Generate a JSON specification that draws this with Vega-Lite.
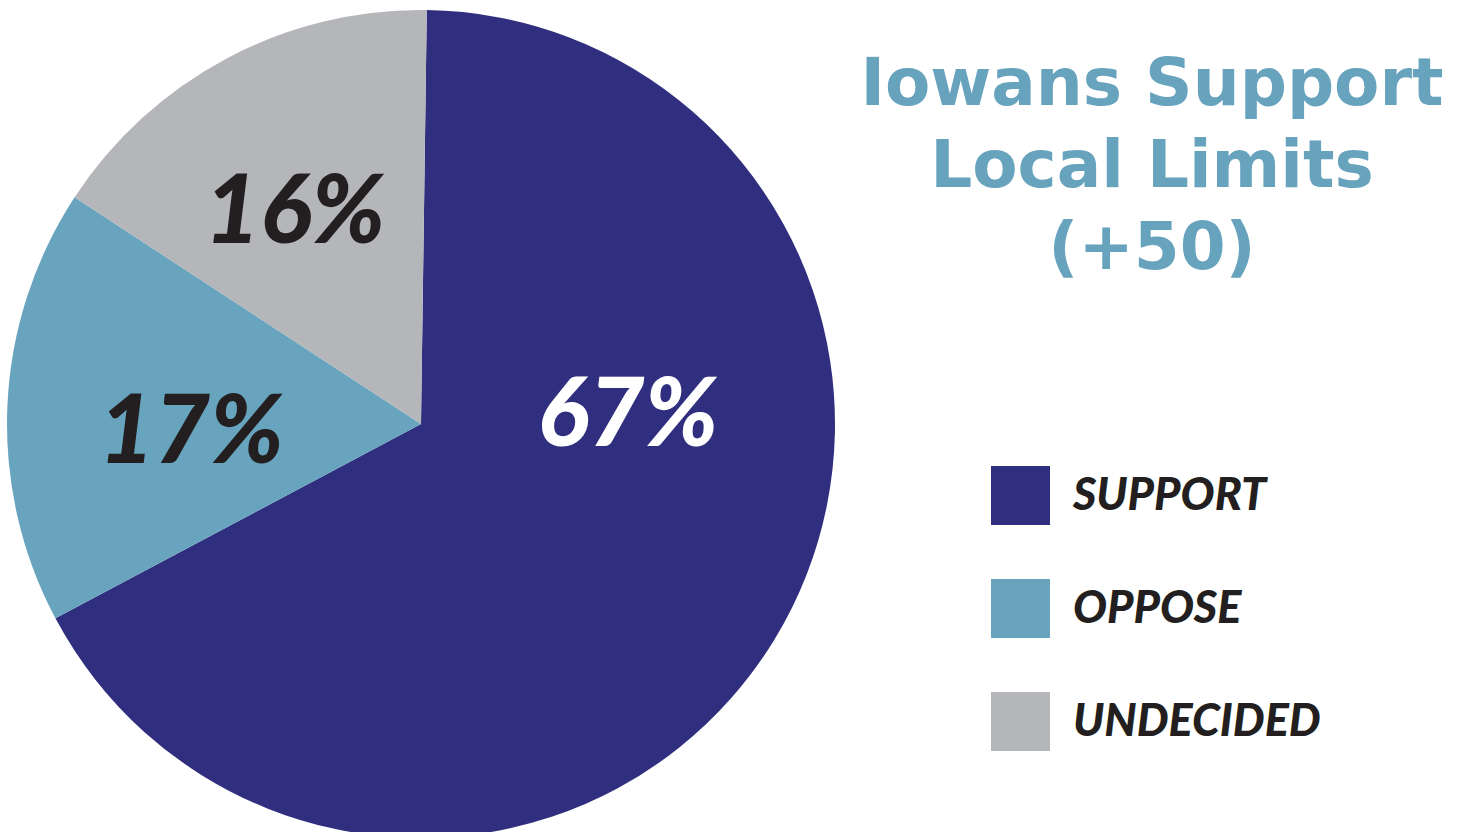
{
  "$schema": "https://vega.github.io/schema/vega-lite/v6.json",
  "width": 1460,
  "height": 832,
  "autosize": {"type": "none"},
  "padding": 0,
  "background": "white",
  "title": {
    "text": ["Iowans Support", "Local Limits", "(+50)"],
    "anchor": "start",
    "align": "center",
    "dx": 1152,
    "dy": 283,
    "frame": "group",
    "offset": 0,
    "baseline": "top",
    "font": "DejaVu Sans",
    "fontWeight": "bold",
    "fontSize": 66,
    "lineHeight": 82,
    "color": "#67a3bd"
  },
  "data": {
    "values": [
      {"response": "SUPPORT", "share": 67, "label": "67%", "order": 1},
      {"response": "OPPOSE", "share": 17, "label": "17%", "order": 2},
      {"response": "UNDECIDED", "share": 16, "label": "16%", "order": 3}
    ]
  },
  "encoding": {
    "theta": {"field": "share", "type": "quantitative", "stack": true, "scale": {"range": [0.014, 6.2972]}},
    "order": {"field": "order", "type": "quantitative"}
  },
  "layer": [
    {
      "mark": {"type": "arc", "outerRadius": 414, "x": 421, "y": 424},
      "encoding": {
        "color": {
          "field": "response",
          "type": "nominal",
          "scale": {"domain": ["SUPPORT", "OPPOSE", "UNDECIDED"], "range": ["#302e7f", "#68a4be", "#b5b6ba"]},
          "legend": {
            "orient": "none",
            "legendX": 991,
            "legendY": 466,
            "title": null,
            "padding": 0,
            "symbolType": "square",
            "symbolSize": 3481,
            "symbolStrokeWidth": 0,
            "labelFont": "Lato",
            "labelFontSize": 45,
            "labelFontWeight": 900,
            "labelFontStyle": "italic",
            "labelColor": "#231f20",
            "labelOffset": 23,
            "labelLimit": 500,
            "rowPadding": 54
          }
        }
      }
    },
    {
      "mark": {"type": "text", "x": 421, "y": 424, "radius": 207, "thetaOffset": -0.581, "font": "Lato", "fontWeight": 900, "fontStyle": "italic", "fontSize": 96, "color": "#ffffff"},
      "encoding": {"text": {"condition": {"test": "datum.response === 'SUPPORT'", "field": "label", "type": "nominal"}, "value": ""}}
    },
    {
      "mark": {"type": "text", "x": 421, "y": 424, "radius": 230, "thetaOffset": -0.089, "font": "Lato", "fontWeight": 900, "fontStyle": "italic", "fontSize": 96, "color": "#231f20"},
      "encoding": {"text": {"condition": {"test": "datum.response === 'OPPOSE'", "field": "label", "type": "nominal"}, "value": ""}}
    },
    {
      "mark": {"type": "text", "x": 421, "y": 424, "radius": 245, "thetaOffset": -0.052, "font": "Lato", "fontWeight": 900, "fontStyle": "italic", "fontSize": 96, "color": "#231f20"},
      "encoding": {"text": {"condition": {"test": "datum.response === 'UNDECIDED'", "field": "label", "type": "nominal"}, "value": ""}}
    }
  ],
  "config": {"view": {"stroke": null}}
}
